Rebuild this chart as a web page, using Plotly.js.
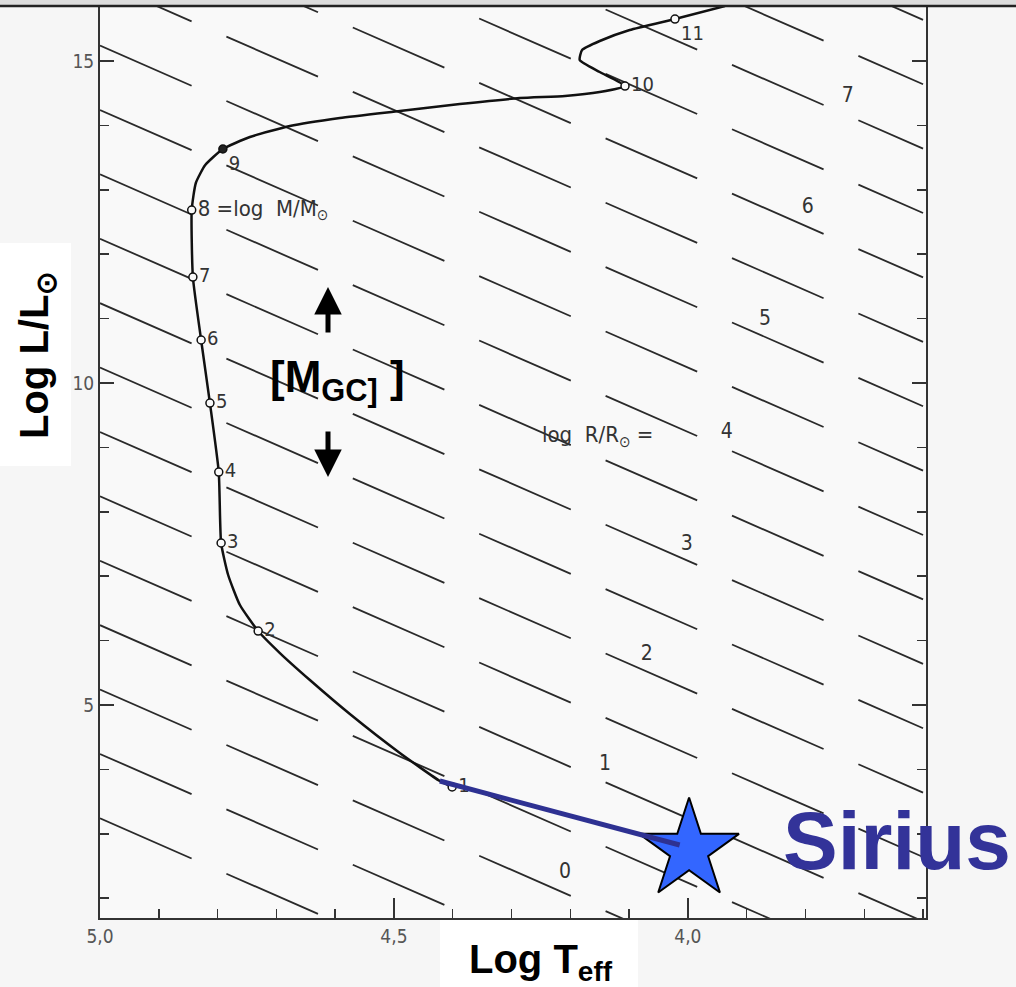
<!DOCTYPE html>
<html>
<head>
<meta charset="utf-8">
<script src="https://cdn.plot.ly/plotly-3.0.1.min.js"></script>
<style>html,body{margin:0;padding:0;background:#f6f6f6;}#chart{width:1016px;height:987px;}</style>
</head>
<body>
<div id="chart"></div>
<script>
// ---- data ----
// constant-radius lines (log R/R_sun), logL read where each line meets log Teff = 5.0 and 3.6
const radiusLogR   = [-1, -0.5, 0, 0.5, 1, 1.5, 2, 2.5, 3, 3.5, 4, 4.5, 5, 5.5, 6, 6.5, 7, 7.5, 8];
const radiusLAtT50 = [3.24, 4.24, 5.24, 6.24, 7.24, 8.24, 9.24, 10.24, 11.24, 12.24, 13.24, 14.24, 15.24, 16.24, 17.24, 18.24, 19.24, 20.24, 21.24];
const radiusLAtT36 = [-2.36, -1.36, -0.36, 0.64, 1.64, 2.64, 3.64, 4.64, 5.64, 6.64, 7.64, 8.64, 9.64, 10.64, 11.64, 12.64, 13.64, 14.64, 15.64];
const radiusEndT   = [5.0, 3.6];

// radius labels
const radiusLabelText = ['0', '1', '2', '3', '4', '5', '6', '7'];
const radiusLabelT    = [4.209, 4.141, 4.070, 4.002, 3.934, 3.869, 3.796, 3.728];
const radiusLabelL    = [2.391, 4.068, 5.776, 7.484, 9.224, 10.978, 12.717, 14.441];

// evolutionary track (log Teff, log L/L_sun)
const trackT = [4.401, 4.422, 4.490, 4.575, 4.643, 4.694, 4.731, 4.762, 4.782, 4.794, 4.798, 4.813, 4.828, 4.842, 4.844, 4.837, 4.821, 4.791, 4.745, 4.677, 4.592, 4.490, 4.388, 4.286, 4.209, 4.150, 4.107, 4.150, 4.184, 4.180, 4.150, 4.099, 4.022, 3.937];
const trackL = [3.727, 3.820, 4.255, 4.860, 5.388, 5.807, 6.149, 6.553, 7.019, 7.516, 8.618, 9.689, 10.668, 11.646, 12.686, 13.106, 13.385, 13.634, 13.820, 13.991, 14.115, 14.224, 14.332, 14.425, 14.457, 14.519, 14.612, 14.829, 15.016, 15.171, 15.311, 15.481, 15.652, 15.854];

// mass points log M/M_sun = 1..11
const massLabels = ['1', '2', '3', '4', '5', '6', '7', '8 =log  M/M<sub>⊙</sub>', '9', '10', '11'];
const massT = [4.401, 4.731, 4.794, 4.798, 4.813, 4.828, 4.842, 4.844, 4.791, 4.107, 4.022];
const massL = [3.727, 6.149, 7.516, 8.618, 9.689, 10.668, 11.646, 12.686, 13.634, 14.612, 15.652];
const massFilled = [false, false, false, false, false, false, false, false, true, false, false];

// Sirius
const siriusT = [3.998];
const siriusL = [2.748];
const siriusLinkT = [4.422, 4.014];
const siriusLinkL = [3.820, 2.826];

// axis ticks
const xTickVals = [5.0, 4.5, 4.0];
const xTickText = ['5,0', '4,5', '4,0'];
const yTickVals = [5, 10, 15];
const yTickText = ['5', '10', '15'];

// ---- figure ----
const scanFont = 'Liberation Sans Narrow, DejaVu Sans Condensed, sans-serif';
const traces = [];

radiusLogR.forEach((r, i) => {
  traces.push({
    type: 'scatter', mode: 'lines',
    x: radiusEndT, y: [radiusLAtT50[i], radiusLAtT36[i]],
    line: {color: '#2a2a2a', width: 1.8, dash: '100px,38px'},
    hoverinfo: 'skip'
  });
});

traces.push({
  type: 'scatter', mode: 'text',
  x: radiusLabelT, y: radiusLabelL, text: radiusLabelText,
  textfont: {family: scanFont, size: 21, color: '#333'},
  hoverinfo: 'skip'
});

traces.push({
  type: 'scatter', mode: 'lines',
  x: trackT, y: trackL,
  line: {color: '#111', width: 2.5, shape: 'spline', smoothing: 0.5},
  hoverinfo: 'skip'
});

traces.push({
  type: 'scatter', mode: 'markers+text',
  x: massT, y: massL, text: massLabels,
  textposition: ['middle right', 'middle right', 'middle right', 'middle right', 'middle right', 'middle right', 'middle right', 'middle right', 'bottom right', 'middle right', 'bottom right'],
  textfont: {family: scanFont, size: [20, 20, 20, 20, 20, 20, 20, 22, 20, 20, 20], color: '#333'},
  marker: {symbol: 'circle', size: 8, color: massFilled.map(f => f ? '#222' : '#fafafa'), line: {color: '#111', width: 1.5}},
  hoverinfo: 'skip'
});

traces.push({
  type: 'scatter', mode: 'markers',
  x: siriusT, y: siriusL,
  marker: {symbol: 'star', size: 75, color: '#3366ff', line: {color: '#000', width: 2}},
  hoverinfo: 'skip'
});

traces.push({
  type: 'scatter', mode: 'lines',
  x: siriusLinkT, y: siriusLinkL,
  line: {color: '#2e3192', width: 5},
  hoverinfo: 'skip'
});

// pixel -> paper helpers for overlay boxes (plot area: x 100..926, y 7..918)
const px = v => (v - 100) / 826;
const py = v => (918 - v) / 911;

const layout = {
  width: 1016, height: 987,
  margin: {l: 100, r: 90, t: 7, b: 69, pad: 0},
  paper_bgcolor: '#f6f6f6',
  plot_bgcolor: '#f9f9f9',
  showlegend: false,
  xaxis: {
    range: [5.0, 3.595], showgrid: false, zeroline: false,
    showline: true, linecolor: '#333', linewidth: 2, mirror: false,
    tickmode: 'array', tickvals: xTickVals, ticktext: xTickText,
    ticks: 'inside', ticklen: 20, tickwidth: 1.5, tickcolor: '#333',
    tickfont: {family: scanFont, size: 19, color: '#555'},
    minor: {tickmode: 'linear', tick0: 5.0, dtick: 0.1, ticks: 'inside', ticklen: 9, tickwidth: 1.5, tickcolor: '#333', showgrid: false}
  },
  yaxis: {
    range: [1.693, 15.839], showgrid: false, zeroline: false,
    showline: true, linecolor: '#333', linewidth: 2, mirror: 'ticks',
    tickmode: 'array', tickvals: yTickVals, ticktext: yTickText,
    ticks: 'inside', ticklen: 14, tickwidth: 1.5, tickcolor: '#333',
    tickfont: {family: scanFont, size: 19, color: '#555'},
    minor: {tickmode: 'linear', tick0: 0, dtick: 1, ticks: 'inside', ticklen: 9, tickwidth: 1.5, tickcolor: '#333', showgrid: false}
  },
  shapes: [
    {type: 'rect', xref: 'paper', yref: 'paper', x0: px(-5), x1: px(1025), y0: py(6), y1: py(-5), fillcolor: '#dcdcdc', line: {width: 0}},
    {type: 'line', xref: 'paper', yref: 'paper', x0: px(-5), x1: px(1025), y0: py(6), y1: py(6), line: {color: '#222', width: 2.5}},
    {type: 'rect', xref: 'paper', yref: 'paper', x0: px(0), x1: px(71), y0: py(466), y1: py(243), fillcolor: '#ffffff', line: {width: 0}},
    {type: 'rect', xref: 'paper', yref: 'paper', x0: px(440), x1: px(638), y0: py(990), y1: py(920), fillcolor: '#ffffff', line: {width: 0}}
  ],
  annotations: [
    {xref: 'paper', yref: 'paper', x: px(37), y: py(355), text: '<b>Log L/L<sub>⊙</sub></b>', textangle: -90, showarrow: false,
     font: {family: 'Liberation Sans, Arial, sans-serif', size: 40, color: '#000'}, xanchor: 'center', yanchor: 'middle'},
    {xref: 'paper', yref: 'paper', x: px(541), y: py(962), text: '<b>Log T<sub>eff</sub></b>', showarrow: false,
     font: {family: 'Liberation Sans, Arial, sans-serif', size: 40, color: '#000'}, xanchor: 'center', yanchor: 'middle'},
    {xref: 'paper', yref: 'paper', x: px(337), y: py(380), text: '<b>[M<sub>GC]</sub> ]</b>', showarrow: false,
     font: {family: 'Liberation Sans, Arial, sans-serif', size: 44, color: '#000'}, xanchor: 'center', yanchor: 'middle'},
    {xref: 'paper', yref: 'paper', x: px(328), y: py(287), text: '', showarrow: true, ax: 0, ay: 47,
     arrowhead: 2, arrowsize: 1.1, arrowwidth: 5, arrowcolor: '#000', standoff: 0, startstandoff: 0},
    {xref: 'paper', yref: 'paper', x: px(328), y: py(477), text: '', showarrow: true, ax: 0, ay: -47,
     arrowhead: 2, arrowsize: 1.1, arrowwidth: 5, arrowcolor: '#000', standoff: 0, startstandoff: 0},
    {xref: 'paper', yref: 'paper', x: px(897), y: py(840), text: '<b>Sirius</b>', showarrow: false,
     font: {family: 'Liberation Sans, Arial, sans-serif', size: 82, color: '#333399'}, xanchor: 'center', yanchor: 'middle'},
    {xref: 'x', yref: 'y', x: 4.252, y: 9.177, text: 'log  R/R<sub>⊙</sub> =', showarrow: false, xanchor: 'left', yanchor: 'middle',
     font: {family: scanFont, size: 22, color: '#333'}}
  ]
};

Plotly.newPlot('chart', traces, layout, {displayModeBar: false, staticPlot: true});
</script>
</body>
</html>
